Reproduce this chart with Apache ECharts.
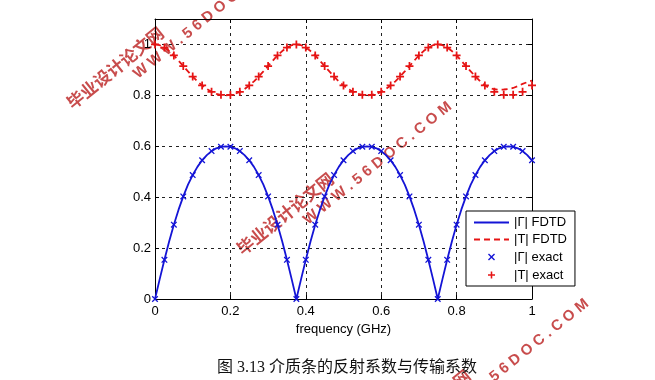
<!DOCTYPE html>
<html>
<head>
<meta charset="utf-8">
<script src="https://cdn.jsdelivr.net/npm/echarts@6/dist/echarts.min.js"></script>
<style>
html,body{margin:0;padding:0;background:#fff;}
#chart{width:655px;height:380px;}
</style>
</head>
<body>
<div id="chart"></div>
<script>
// ---- data ----
const freqExact = [0,0.025,0.05,0.075,0.1,0.125,0.15,0.175,0.2,0.225,0.25,0.275,0.3,0.325,0.35,0.375,0.4,0.425,0.45,0.475,0.5,0.525,0.55,0.575,0.6,0.625,0.65,0.675,0.7,0.725,0.75,0.775,0.8,0.825,0.85,0.875,0.9,0.925,0.95,0.975,1];
const gammaExact = [0,.154,.292,.403,.487,.545,.581,.598,.598,.581,.545,.487,.403,.292,.154,0,
  .154,.292,.403,.487,.545,.581,.598,.598,.581,.545,.487,.403,.292,.154,0,
  .154,.292,.403,.487,.545,.581,.598,.598,.581,.545];
const tExact = [1,.988,.957,.915,.874,.839,.814,.802,.802,.814,.839,.874,.915,.957,.988,1,
  .988,.957,.915,.874,.839,.814,.802,.802,.814,.839,.874,.915,.957,.988,1,
  .988,.957,.915,.874,.839,.814,.802,.802,.814,.839];

const freqFdtd = [0,0.0125,0.025,0.0375,0.05,0.0625,0.075,0.0875,0.1,0.1125,0.125,0.1375,0.15,0.1625,0.175,0.1875,0.2,0.2125,0.225,0.2375,0.25,0.2625,0.275,0.2875,0.3,0.3125,0.325,0.3375,0.35,0.3625,0.375,0.3875,0.4,0.4125,0.425,0.4375,0.45,0.4625,0.475,0.4875,0.5,0.5125,0.525,0.5375,0.55,0.5625,0.575,0.5875,0.6,0.6125,0.625,0.6375,0.65,0.6625,0.675,0.6875,0.7,0.7125,0.725,0.7375,0.75,0.7625,0.775,0.7875,0.8,0.8125,0.825,0.8375,0.85,0.8625,0.875,0.8875,0.9,0.9125,0.925,0.9375,0.95,0.9625,0.975,0.9875,1];
const gammaFdtd = [0,.078,.154,.226,.292,.351,.403,.449,.487,.519,.545,.565,.581,.592,.598,.600,.598,.592,.581,.565,.545,.519,.487,.449,.403,.351,.292,.226,.154,.078,0,
  .078,.154,.226,.292,.351,.403,.449,.487,.519,.545,.565,.581,.592,.598,.600,.598,.592,.581,.565,.545,.519,.487,.449,.403,.351,.292,.226,.154,.078,0,
  .078,.154,.226,.292,.351,.403,.449,.487,.519,.545,.565,.581,.592,.598,.600,.598,.592,.581,.565,.545];
const tFdtd = [1,.997,.988,.974,.957,.936,.915,.894,.874,.855,.839,.825,.814,.806,.802,.800,.802,.806,.814,.825,.839,.855,.874,.894,.915,.936,.957,.974,.988,.997,1,
  .997,.988,.974,.957,.936,.915,.894,.874,.855,.839,.825,.814,.806,.802,.800,.802,.806,.814,.825,.839,.855,.874,.894,.915,.936,.957,.974,.988,.997,1,
  .997,.988,.974,.957,.936,.915,.894,.874,.855,.839,.829,.824,.822,.823,.825,.829,.836,.845,.852,.858];

const xTicks = [0,0.2,0.4,0.6,0.8,1];
const yTicks = [0,0.2,0.4,0.6,0.8,1];
const seriesNames = ['|\u0393| FDTD','|T| FDTD','|\u0393| exact','|T| exact'];
const xName = 'frequency (GHz)';
const caption = '图 3.13 介质条的反射系数与传输系数';
const wmCn = '毕业设计论文网';
const wmUrl = 'W W W . 5 6 D O C . C O M';

// ---- build ----
const pair = (xs, ys) => xs.map((x, i) => [x, ys[i]]);
const BLUE = '#1414d6', RED = '#e61414';
const plusPath = 'path://M0,0L0,0.01ZM20,20L20,19.99ZM8.9,5H11.1V8.9H15V11.1H11.1V15H8.9V11.1H5V8.9H8.9Z';
const crossPath = 'path://M0,0L0,0.01ZM20,20L20,19.99ZM5,6.4L6.4,5L10,8.6L13.6,5L15,6.4L11.4,10L15,13.6L13.6,15L10,11.4L6.4,15L5,13.6L8.6,10Z';
const FONT = '"Liberation Sans", Arial, Helvetica, sans-serif';

function fmt(v){ if (v > 1.05) return ''; return String(+v.toFixed(1)); }

const rot = 39 * Math.PI / 180;
function watermark(x, y){
  return {
    type: 'group', x: x, y: y, rotation: rot, z: 100,
    children: [
      { type: 'text', x: -76, y: -19, style: { text: wmCn, font: 'bold 17px "Noto Sans CJK SC", sans-serif', fill: 'rgba(190,45,45,0.85)', stroke: 'rgba(255,255,255,0.9)', lineWidth: 2.5, strokeFirst: true, verticalAlign: 'middle', align: 'left' } },
      { type: 'text', x: -6, y: 0, style: { text: wmUrl, font: 'bold 15px ' + FONT, fill: 'rgba(190,45,45,0.85)', stroke: 'rgba(255,255,255,0.9)', lineWidth: 2.5, strokeFirst: true, verticalAlign: 'middle', align: 'left' } }
    ]
  };
}

const chart = echarts.init(document.getElementById('chart'), null, {renderer: 'canvas'});
const axisCommon = {
  type: 'value', min: 0, interval: 0.2,
  axisLine: { show: true, onZero: false, lineStyle: { color: '#000', width: 1 } },
  axisTick: { show: true, inside: true, length: 4, lineStyle: { color: '#000' } },
};
chart.setOption({
  animation: false,
  backgroundColor: '#fff',
  grid: { left: 155, right: 123, top: 19, bottom: 81, containLabel: false, outerBoundsMode: 'none', show: false },
  legend: {
    orient: 'vertical', left: 466, top: 211,
    padding: [5, 8, 4, 7], itemGap: 4, itemWidth: 35, itemHeight: 14,
    backgroundColor: '#fff', borderColor: '#000', borderWidth: 1, borderRadius: 0,
    textStyle: { fontSize: 13, color: '#000', fontFamily: FONT },
    data: [
      { name: seriesNames[0], itemStyle: { opacity: 0 } },
      { name: seriesNames[1], itemStyle: { opacity: 0 } },
      { name: seriesNames[2] },
      { name: seriesNames[3] }
    ]
  },
  xAxis: [
    Object.assign({}, axisCommon, {
      max: 1, position: 'bottom',
      name: xName, nameLocation: 'middle', nameGap: 21,
      nameTextStyle: { fontSize: 13, color: '#000', fontFamily: FONT },
      axisLabel: { color: '#000', fontSize: 13, margin: 6, fontFamily: FONT, formatter: fmt },
      splitLine: { show: true, lineStyle: { color: '#222', type: [3, 4], width: 1 } }
    }),
    Object.assign({}, axisCommon, {
      max: 1, position: 'top', axisLabel: { show: false }, splitLine: { show: false }
    })
  ],
  yAxis: [
    Object.assign({}, axisCommon, {
      max: 1.1, position: 'left',
      axisLabel: { color: '#000', fontSize: 13, margin: 4, fontFamily: FONT, formatter: fmt },
      splitLine: { show: true, lineStyle: { color: '#222', type: [3, 4], width: 1 } }
    }),
    Object.assign({}, axisCommon, {
      max: 1.1, position: 'right', axisLabel: { show: false }, splitLine: { show: false }
    })
  ],
  series: [
    { name: seriesNames[0], type: 'line', data: pair(freqFdtd, gammaFdtd), symbol: 'none', smooth: false,
      lineStyle: { color: BLUE, width: 1.8 }, itemStyle: { color: BLUE }, z: 3 },
    { name: seriesNames[1], type: 'line', data: pair(freqFdtd, tFdtd), symbol: 'none', smooth: false,
      lineStyle: { color: RED, width: 1.8, type: [6, 4] }, itemStyle: { color: RED }, z: 3 },
    { name: seriesNames[2], type: 'scatter', data: pair(freqExact, gammaExact), symbol: crossPath, symbolSize: 13,
      itemStyle: { color: BLUE, opacity: 1 }, z: 4 },
    { name: seriesNames[3], type: 'scatter', data: pair(freqExact, tExact), symbol: plusPath, symbolSize: 16,
      itemStyle: { color: RED, opacity: 1 }, z: 4 }
  ],
  graphic: [
    { type: 'text', x: 347, y: 368, z: 50, style: { text: caption, font: '16px "Liberation Serif", "Noto Sans CJK SC", serif', fill: '#111', align: 'center', verticalAlign: 'middle' } },
    watermark(140, 72), watermark(310, 218), watermark(447, 415)
  ]
});
</script>
</body>
</html>
